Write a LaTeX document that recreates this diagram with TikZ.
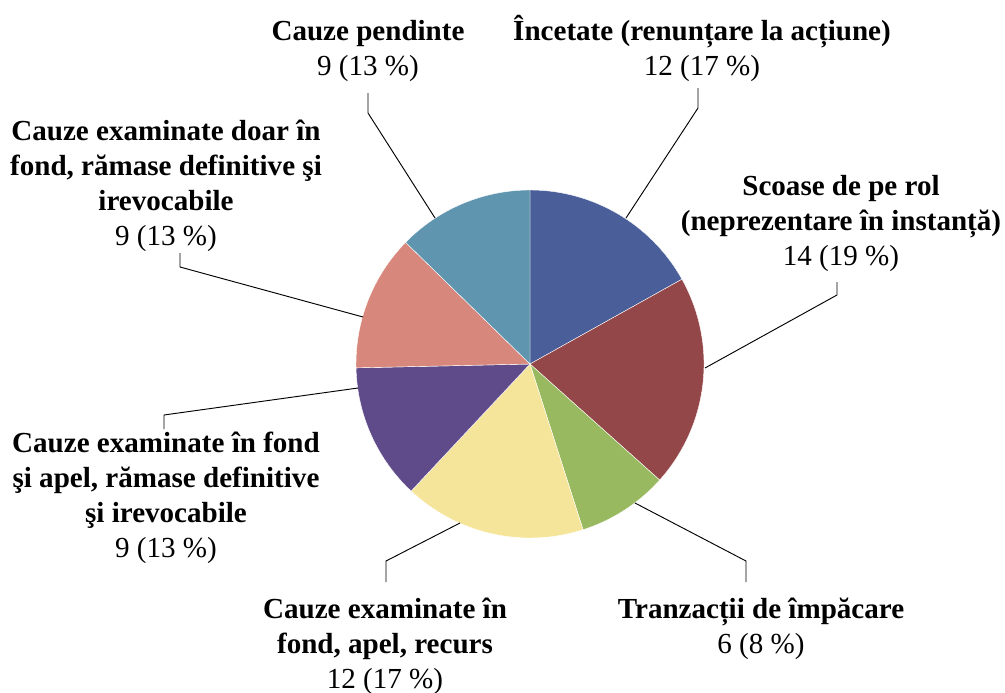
\documentclass[tikz,border=0pt]{standalone}
\usepackage{fontspec}
\setmainfont{Liberation Serif}
\definecolor{cBlue}{HTML}{4A5E99}
\definecolor{cRed}{HTML}{944749}
\definecolor{cGreen}{HTML}{98B95F}
\definecolor{cYellow}{HTML}{F5E59A}
\definecolor{cPurple}{HTML}{5F4B8A}
\definecolor{cSalmon}{HTML}{D7877C}
\definecolor{cTeal}{HTML}{5F95AF}
\tikzset{
  slice/.style={draw=white, line width=0.3pt},
  leader/.style={draw=black, line width=0.7pt},
  lbl/.style={align=center, anchor=base, inner sep=0pt,
    font=\fontsize{21.8}{26.25}\selectfont},
}
\newcommand{\pieslice}[3]{%
  \fill[#3, slice] (pc) -- ++(#1:174) arc (#1:#2:174) -- cycle;}
\begin{document}
\begin{tikzpicture}[x=0.75pt, y=-0.75pt]
\useasboundingbox (0,0) rectangle (1005,692);
\coordinate (pc) at (530,364);
% slices (angles measured with y pointing down)
\pieslice{-90}{-29.155}{cBlue}
\pieslice{-29.155}{41.831}{cRed}
\pieslice{41.831}{72.254}{cGreen}
\pieslice{72.254}{133.099}{cYellow}
\pieslice{133.099}{178.732}{cPurple}
\pieslice{178.732}{224.366}{cSalmon}
\pieslice{224.366}{270}{cTeal}
% labels (anchor = baseline of last line)
\node[lbl] (lInc) at (702,75) {\textbf{Încetate (renunțare la acțiune)}\\12 (17 \%)};
\node[lbl] (lSco) at (841,265) {\textbf{Scoase de pe rol}\\\textbf{(neprezentare în instanță)}\\14 (19 \%)};
\node[lbl] (lTra) at (761,653) {\textbf{Tranzacții de împăcare}\\6 (8 \%)};
\node[lbl] (lRec) at (385,688) {\textbf{Cauze examinate în}\\\textbf{fond, apel, recurs}\\12 (17 \%)};
\node[lbl] (lApe) at (166,557) {\textbf{Cauze examinate în fond}\\\textbf{şi apel, rămase definitive}\\\textbf{şi irevocabile}\\9 (13 \%)};
\node[lbl] (lDoa) at (166,245) {\textbf{Cauze examinate doar în}\\\textbf{fond, rămase definitive şi}\\\textbf{irevocabile}\\9 (13 \%)};
\node[lbl] (lPen) at (368,75) {\textbf{Cauze pendinte}\\9 (13 \%)};
% leader coordinates
\coordinate (aInc) at (626,218); \coordinate (bInc) at (698,108); \coordinate (eInc) at (698,88);
\coordinate (aSco) at (705,368); \coordinate (bSco) at (837,295); \coordinate (eSco) at (837,282);
\coordinate (aTra) at (635,503); \coordinate (bTra) at (746,561); \coordinate (eTra) at (746,582);
\coordinate (aRec) at (460,523); \coordinate (bRec) at (386,561); \coordinate (eRec) at (386,582);
\coordinate (aApe) at (358,388); \coordinate (bApe) at (164,415); \coordinate (eApe) at (164,429);
\coordinate (aDoa) at (363,317); \coordinate (bDoa) at (180,267); \coordinate (eDoa) at (180,253);
\coordinate (aPen) at (435,218); \coordinate (bPen) at (368,113); \coordinate (ePen) at (368,93);
\foreach \n in {Inc,Sco,Tra,Rec,Ape,Doa,Pen}
  \draw[leader] (a\n) -- (b\n) -- (e\n);
\end{tikzpicture}
\end{document}
